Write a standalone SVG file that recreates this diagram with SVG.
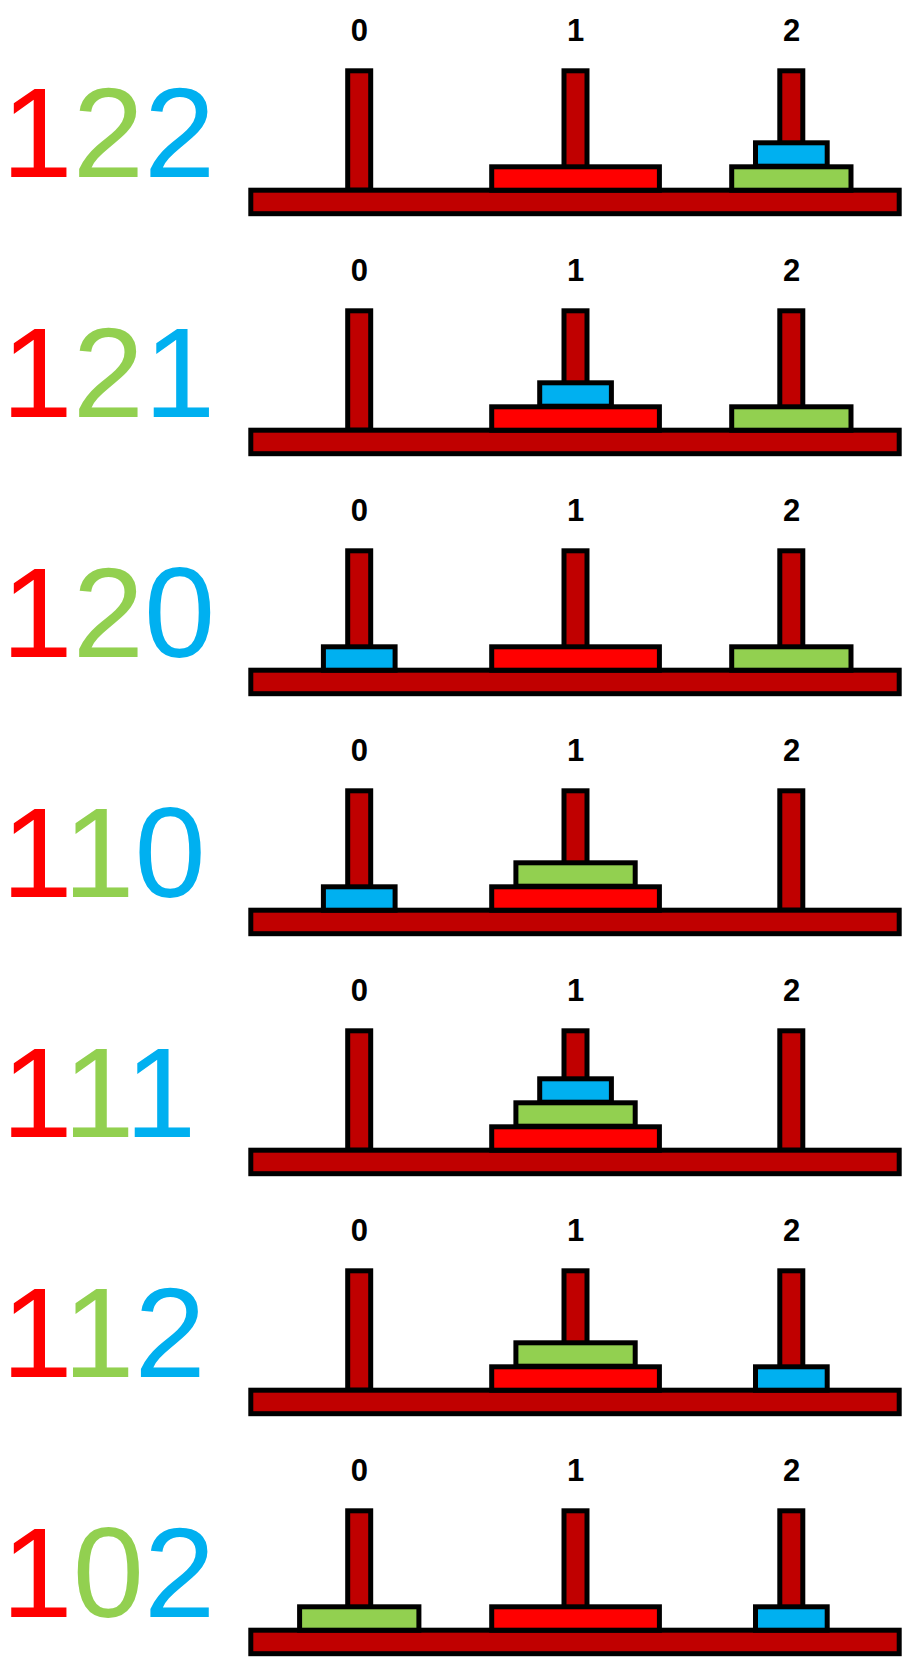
<svg xmlns="http://www.w3.org/2000/svg" width="905" height="1663" viewBox="0 0 905 1663">
<style>
.bg{fill:#FFFFFF}
.peg,.base{fill:#C00000;stroke:#000;stroke-width:5}
.d0{fill:#FF0000;stroke:#000;stroke-width:5}
.d1{fill:#92D050;stroke:#000;stroke-width:5}
.d2{fill:#00B0F0;stroke:#000;stroke-width:5}
.lbl{font-family:"Liberation Sans",Arial,sans-serif;font-weight:bold;font-size:31px;fill:#000;text-anchor:middle}
.num{font-family:"Liberation Sans",Arial,sans-serif;font-size:128px}
.cr{fill:#FF0000}.cg{fill:#92D050}.cb{fill:#00B0F0}
</style>
<defs>
<g id="frame">
<text class="lbl" x="359.4" y="40.5">0</text>
<text class="lbl" x="575.7" y="40.5">1</text>
<text class="lbl" x="791.5" y="40.5">2</text>
<rect class="peg" x="347.7" y="70.8" width="23" height="119.4"/>
<rect class="peg" x="564" y="70.8" width="23" height="119.4"/>
<rect class="peg" x="779.8" y="70.8" width="23" height="119.4"/>
<rect class="base" x="250.8" y="190.2" width="648.4" height="23.5"/>
</g>
</defs>
<rect class="bg" x="0" y="0" width="905" height="1663"/>
<g id="connectors"/>
<g id="state-122" transform="translate(0,0)">
<text class="num" x="1.5" y="176.7"><tspan class="cr">1</tspan><tspan class="cg">2</tspan><tspan class="cb">2</tspan></text>
<use href="#frame"/>
<rect class="d0" x="491.7" y="166.8" width="167.7" height="23.4"/>
<rect class="d1" x="731.7" y="166.8" width="119.3" height="23.4"/>
<rect class="d2" x="755.5" y="142.8" width="71.7" height="23.4"/>
</g>
<g id="state-121" transform="translate(0,240)">
<text class="num" x="1.5" y="176.7"><tspan class="cr">1</tspan><tspan class="cg">2</tspan><tspan class="cb">1</tspan></text>
<use href="#frame"/>
<rect class="d0" x="491.7" y="166.8" width="167.7" height="23.4"/>
<rect class="d1" x="731.7" y="166.8" width="119.3" height="23.4"/>
<rect class="d2" x="539.7" y="142.8" width="71.7" height="23.4"/>
</g>
<g id="state-120" transform="translate(0,480)">
<text class="num" x="1.5" y="176.7"><tspan class="cr">1</tspan><tspan class="cg">2</tspan><tspan class="cb">0</tspan></text>
<use href="#frame"/>
<rect class="d0" x="491.7" y="166.8" width="167.7" height="23.4"/>
<rect class="d1" x="731.7" y="166.8" width="119.3" height="23.4"/>
<rect class="d2" x="323.4" y="166.8" width="71.7" height="23.4"/>
</g>
<g id="state-110" transform="translate(0,720)">
<text class="num" x="1.5" y="176.7"><tspan class="cr">1</tspan><tspan class="cg">1</tspan><tspan class="cb">0</tspan></text>
<use href="#frame"/>
<rect class="d0" x="491.7" y="166.8" width="167.7" height="23.4"/>
<rect class="d1" x="515.9" y="142.8" width="119.3" height="23.4"/>
<rect class="d2" x="323.4" y="166.8" width="71.7" height="23.4"/>
</g>
<g id="state-111" transform="translate(0,960)">
<text class="num" x="1.5" y="176.7"><tspan class="cr">1</tspan><tspan class="cg">1</tspan><tspan class="cb">1</tspan></text>
<use href="#frame"/>
<rect class="d0" x="491.7" y="166.8" width="167.7" height="23.4"/>
<rect class="d1" x="515.9" y="142.8" width="119.3" height="23.4"/>
<rect class="d2" x="539.7" y="118.8" width="71.7" height="23.4"/>
</g>
<g id="state-112" transform="translate(0,1200)">
<text class="num" x="1.5" y="176.7"><tspan class="cr">1</tspan><tspan class="cg">1</tspan><tspan class="cb">2</tspan></text>
<use href="#frame"/>
<rect class="d0" x="491.7" y="166.8" width="167.7" height="23.4"/>
<rect class="d1" x="515.9" y="142.8" width="119.3" height="23.4"/>
<rect class="d2" x="755.5" y="166.8" width="71.7" height="23.4"/>
</g>
<g id="state-102" transform="translate(0,1440)">
<text class="num" x="1.5" y="176.7"><tspan class="cr">1</tspan><tspan class="cg">0</tspan><tspan class="cb">2</tspan></text>
<use href="#frame"/>
<rect class="d0" x="491.7" y="166.8" width="167.7" height="23.4"/>
<rect class="d1" x="299.6" y="166.8" width="119.3" height="23.4"/>
<rect class="d2" x="755.5" y="166.8" width="71.7" height="23.4"/>
</g>
</svg>
